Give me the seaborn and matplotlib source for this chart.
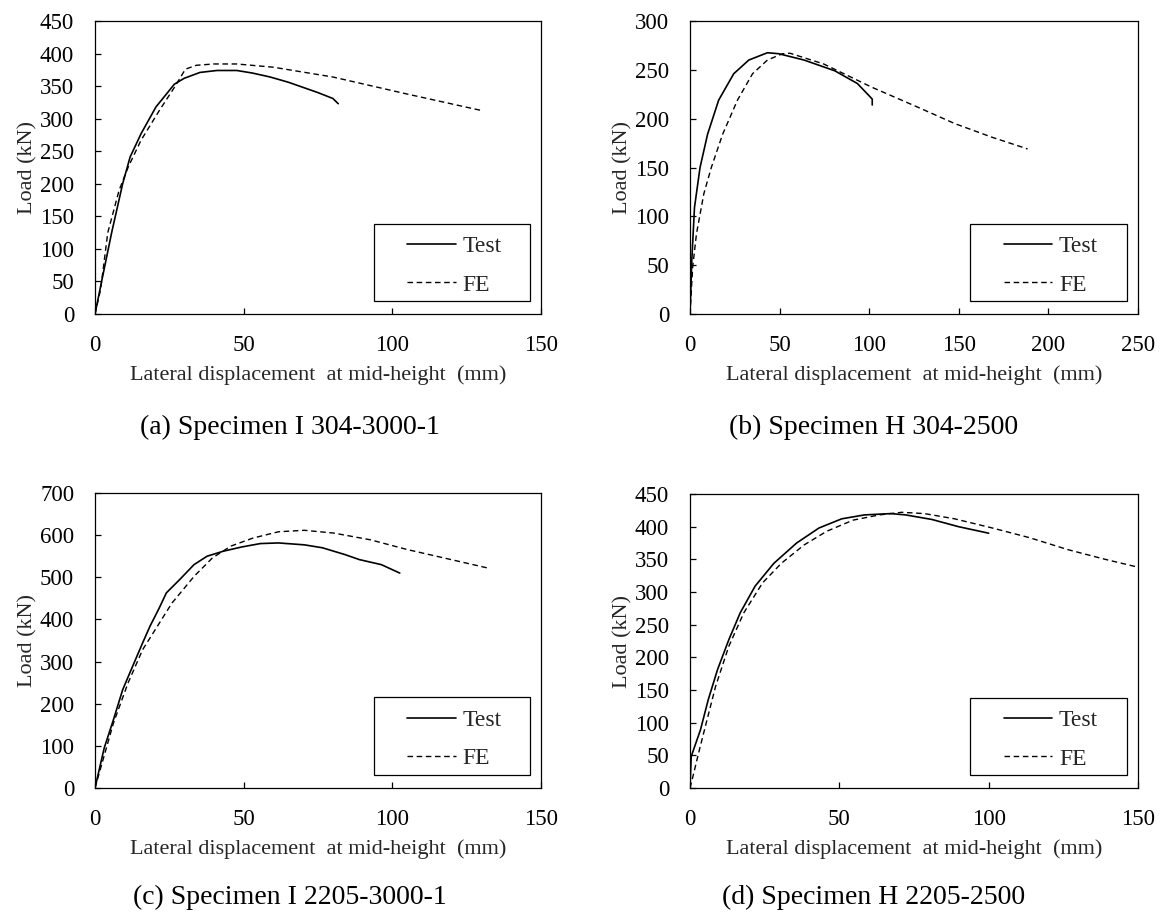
import numpy as np
import pandas as pd
import matplotlib
matplotlib.use("Agg")
import matplotlib.pyplot as plt
from matplotlib.patches import Rectangle
import seaborn as sns

# ---------------- data ----------------
a_test_x = [0, 2, 5.6, 9.3, 11.8, 15.5, 20.5, 26.7, 30, 35.3, 41, 47.7, 53, 58.9, 65, 70, 75, 80, 81.8]
a_test_y = [0, 45, 125, 200, 241, 277, 318, 353, 362, 371, 374, 374, 370, 364, 356, 348, 340, 331, 323]
a_fe_x = [0, 1.9, 4.3, 8.1, 11.2, 15.5, 21.7, 26.7, 30.4, 34.1, 40, 47.7, 60, 80, 104.8, 129.5]
a_fe_y = [0, 38, 125, 190, 226, 267, 313, 348, 376, 382, 384, 384, 379, 364, 338, 313]

b_test_x = [0, 1, 2.5, 5.6, 9.8, 16, 24.4, 32.8, 43.2, 49.5, 63.7, 80.8, 93.4, 100.7, 101.7, 101.7]
b_test_y = [0, 55, 109, 150, 184, 219, 246, 260, 267.5, 266.5, 260, 249, 236, 222, 220, 214]
b_fe_x = [0, 1.5, 3.6, 7.7, 11.9, 18.2, 26.5, 34.9, 43.2, 51.6, 55.8, 74.6, 101.7, 126.8, 147.7, 168.5, 188.4]
b_fe_y = [0, 48, 82, 123, 150, 184, 219, 246, 260, 266.5, 267, 256, 232, 212, 195, 181, 169]

c_test_x = [0, 3.1, 6.2, 9.3, 11.7, 16, 18.5, 21.6, 24, 28.4, 33.3, 37.7, 43.2, 49.4, 55.6, 61.7, 70.4, 76.5, 84, 88.9, 96.3, 102.5]
c_test_y = [0, 95, 162, 233, 273, 344, 384, 427, 463, 494, 530, 550, 562, 572, 580, 581.5, 577, 570, 554, 542, 530, 510]
c_fe_x = [0, 6.2, 11.1, 16, 21, 25.9, 33.3, 39.5, 45.7, 53.1, 61.7, 70.4, 80.2, 92.6, 104.9, 117.3, 132.1]
c_fe_y = [0, 154, 249, 328, 384, 439, 502, 546, 574, 593, 608, 611.5, 605, 589, 566, 546, 522]

d_test_x = [0, 0.4, 1.6, 3.5, 6.1, 9.2, 13, 16.8, 21.8, 28.1, 35.7, 43.2, 50.8, 58.4, 67.2, 72.2, 81, 89.9, 100]
d_test_y = [0, 48, 64, 89, 135, 181, 227, 268, 309, 344, 375, 398, 412, 418, 420, 418, 411, 400, 390]
d_fe_x = [0, 1, 2.9, 5.4, 8.6, 13, 18, 24.3, 30.6, 38.2, 45.8, 54.6, 63.4, 70.9, 78.5, 88.6, 101.2, 113.8, 126.4, 139, 150]
d_fe_y = [0, 18, 54, 99, 156, 217, 268, 314, 344, 372, 393, 410, 418, 422, 420, 412, 398, 383, 365, 350, 338]

captions = ["(a) Specimen I 304-3000-1", "(b) Specimen H 304-2500",
            "(c) Specimen I 2205-3000-1", "(d) Specimen H 2205-2500"]
x_limits = [150, 250, 150, 150]
y_limits = [450, 300, 700, 450]
y_steps = [50, 50, 100, 50]
series_labels = ["Test", "FE"]
x_label = "Lateral displacement  at mid-height  (mm)"
y_label = "Load (kN)"

panels = [
    (a_test_x, a_test_y, a_fe_x, a_fe_y),
    (b_test_x, b_test_y, b_fe_x, b_fe_y),
    (c_test_x, c_test_y, c_fe_x, c_fe_y),
    (d_test_x, d_test_y, d_fe_x, d_fe_y),
]

# ---------------- style ----------------
sns.set_theme(style="white")
plt.rcParams["font.family"] = ["Liberation Serif", "DejaVu Serif"]
plt.rcParams["axes.edgecolor"] = "black"
plt.rcParams["axes.linewidth"] = 0.9

W, H = 1168, 918
fig = plt.figure(figsize=(W / 100, H / 100), dpi=100)

# axes rectangles in pixels: left, top, right, bottom
rects = [(95, 21, 541, 314), (690, 21, 1138, 314),
         (95, 493, 541, 788), (690, 494, 1138, 788)]
cap_pos = [(290, 427), (874, 427), (290, 897), (874, 897)]

for i, (tx, ty, fx, fy) in enumerate(panels):
    l, t, r, b = rects[i]
    ax = fig.add_axes([l / W, 1 - b / H, (r - l) / W, (b - t) / H])
    df = pd.concat([
        pd.DataFrame({"x": tx, "y": ty, "s": series_labels[0]}),
        pd.DataFrame({"x": fx, "y": fy, "s": series_labels[1]}),
    ], ignore_index=True)
    sns.lineplot(data=df[df.s == "Test"], x="x", y="y", ax=ax, color="black",
                 lw=1.2, sort=False, estimator=None, label="Test")
    sns.lineplot(data=df[df.s == "FE"], x="x", y="y", ax=ax, color="black",
                 lw=1.0, sort=False, estimator=None, label="FE",
                 linestyle=(0, (4, 2.6)))
    ax.set_xlim(0, x_limits[i])
    ax.set_ylim(0, y_limits[i])
    ax.set_xticks(np.arange(0, x_limits[i] + 1, 50))
    ax.set_yticks(np.arange(0, y_limits[i] + 1, y_steps[i]))
    ax.tick_params(axis="both", direction="in", length=4.5, width=0.9,
                   colors="black", labelsize=16.5)
    ax.tick_params(axis="x", pad=15, bottom=True)
    ax.tick_params(axis="y", pad=15, left=True)
    ax.set_xlabel(x_label, fontsize=16, labelpad=7)
    ax.set_ylabel(y_label, fontsize=16, labelpad=2)
    for sp in ax.spines.values():
        sp.set_visible(True)
        sp.set_color("black")
        sp.set_linewidth(0.9)

    # legend with framed box
    ax.legend(loc="center", bbox_to_anchor=(0.806, 0.165), frameon=False,
              fontsize=17, handlelength=2.05, handletextpad=0.28,
              labelspacing=0.72, borderpad=0)
    ax.add_patch(Rectangle((0.626, 0.043), 0.349, 0.264, transform=ax.transAxes,
                           fill=False, edgecolor="black", lw=0.9, zorder=5))

    cx, cy = cap_pos[i]
    fig.text(cx / W, 1 - cy / H, captions[i], ha="center", va="center",
             fontsize=20, color="black")

fig.savefig("out.png", dpi=100, facecolor="white")
